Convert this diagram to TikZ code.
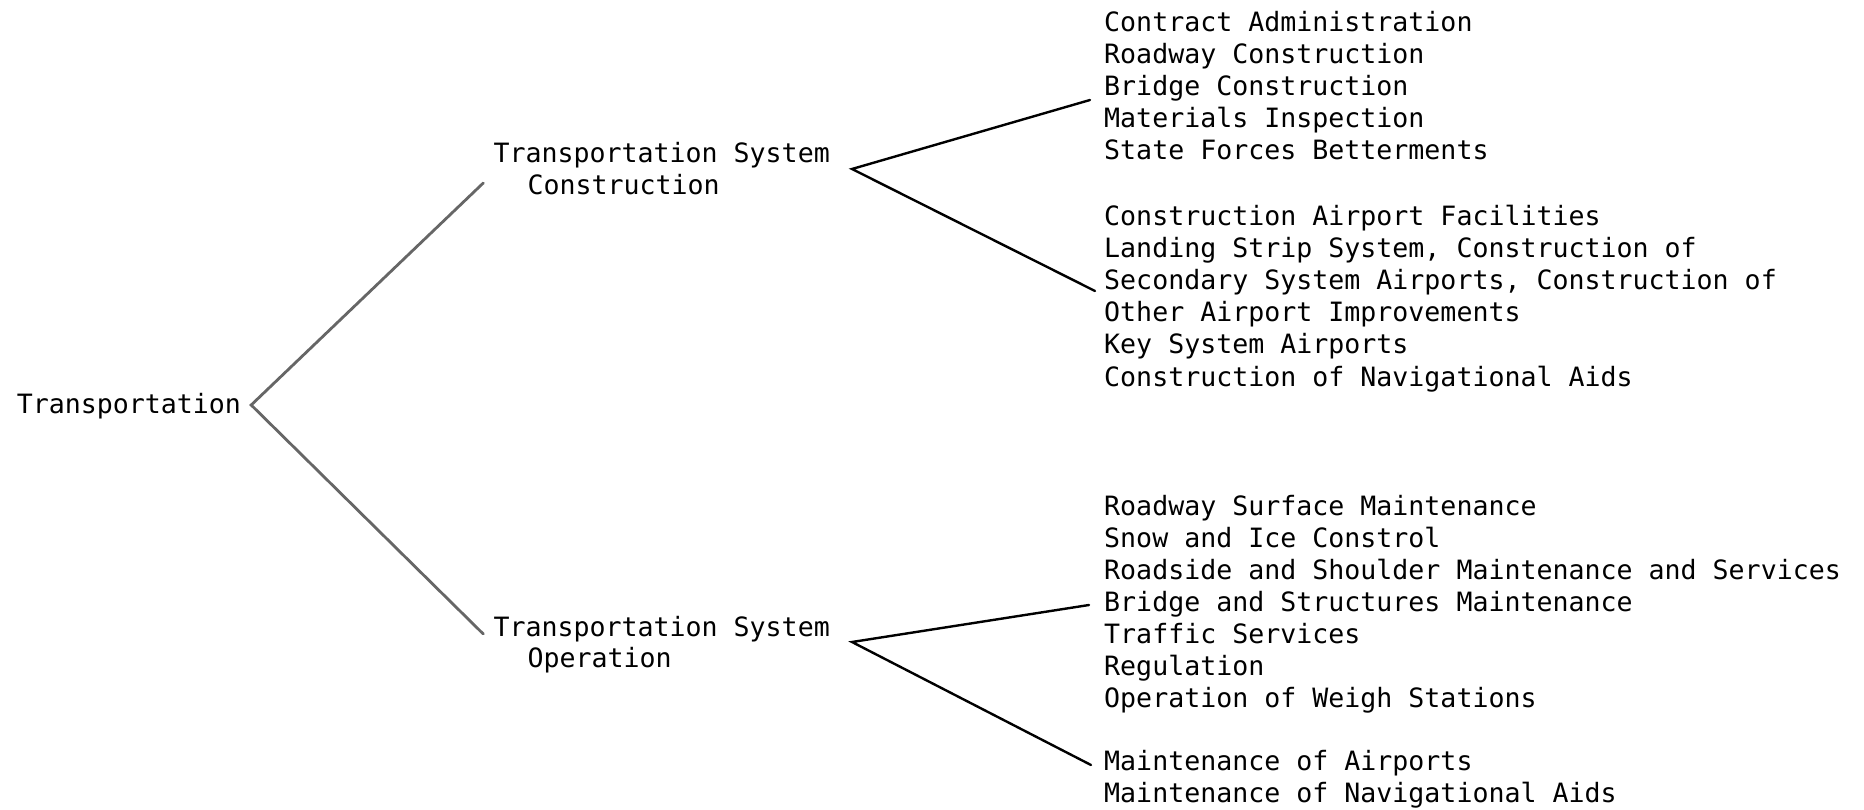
\documentclass[tikz,border=0pt]{standalone}
\usepackage{fontspec}
\setmonofont{DejaVu Sans Mono}
\usetikzlibrary{calc}
\begin{document}
\begin{tikzpicture}[x=1pt,y=-1pt,
  entry/.style={font=\ttfamily\fontsize{26.6}{32}\selectfont, anchor=base west, inner sep=0pt, text=black},
  trunk/.style={draw=black!60, line width=2.8pt, line cap=round, line join=miter},
  branch/.style={draw=black, line width=2.4pt, line cap=round, line join=miter}]
\useasboundingbox (0,0) rectangle (1864,810);

% root and the two main divisions
\node[entry] (root) at (16.6,413) {Transportation};
\node[entry] (tsc1) at (493.3,163) {Transportation System};
\node[entry] (tsc2) at (527.3,195) {Construction};
\node[entry] (tso1) at (493.3,636) {Transportation System};
\node[entry] (tso2) at (527.3,667) {Operation};

% construction: highway programs
\node[entry] (c1) at (1104,32)  {Contract Administration};
\node[entry] (c2) at (1104,64)  {Roadway Construction};
\node[entry] (c3) at (1104,96)  {Bridge Construction};
\node[entry] (c4) at (1104,128) {Materials Inspection};
\node[entry] (c5) at (1104,160) {State Forces Betterments};

% construction: airport programs
\node[entry] (a1) at (1104,226) {Construction Airport Facilities};
\node[entry] (a2) at (1104,258) {Landing Strip System, Construction of};
\node[entry] (a3) at (1104,290) {Secondary System Airports, Construction of};
\node[entry] (a4) at (1104,322) {Other Airport Improvements};
\node[entry] (a5) at (1104,354) {Key System Airports};
\node[entry] (a6) at (1104,386) {Construction of Navigational Aids};

% operation: highway programs
\node[entry] (m1) at (1104,515) {Roadway Surface Maintenance};
\node[entry] (m2) at (1104,547) {Snow and Ice Constrol};
\node[entry] (m3) at (1104,579) {Roadside and Shoulder Maintenance and Services};
\node[entry] (m4) at (1104,611) {Bridge and Structures Maintenance};
\node[entry] (m5) at (1104,643) {Traffic Services};
\node[entry] (m6) at (1104,675) {Regulation};
\node[entry] (m7) at (1104,707) {Operation of Weigh Stations};

% operation: airport programs
\node[entry] (n1) at (1104,770) {Maintenance of Airports};
\node[entry] (n2) at (1104,802) {Maintenance of Navigational Aids};

% fork points
\coordinate (rootapex) at ($(root.base east)+(10,-8)$);
\coordinate (tscapex)  at ($(tsc1.base east)+(22,6)$);
\coordinate (tsoapex)  at ($(tso1.base east)+(22,6)$);

% connectors
\draw[trunk]  ($(tsc1.base west)+(-10,20)$) -- (rootapex) -- ($(tso1.base west)+(-10,-2)$);
\draw[branch] ($(c3.base west)+(-14,4)$) -- (tscapex) -- ($(a3.base west)+(-9,1)$);
\draw[branch] ($(m4.base west)+(-15,-6)$) -- (tsoapex) -- ($(n1.base west)+(-13,-5)$);
\end{tikzpicture}
\end{document}
